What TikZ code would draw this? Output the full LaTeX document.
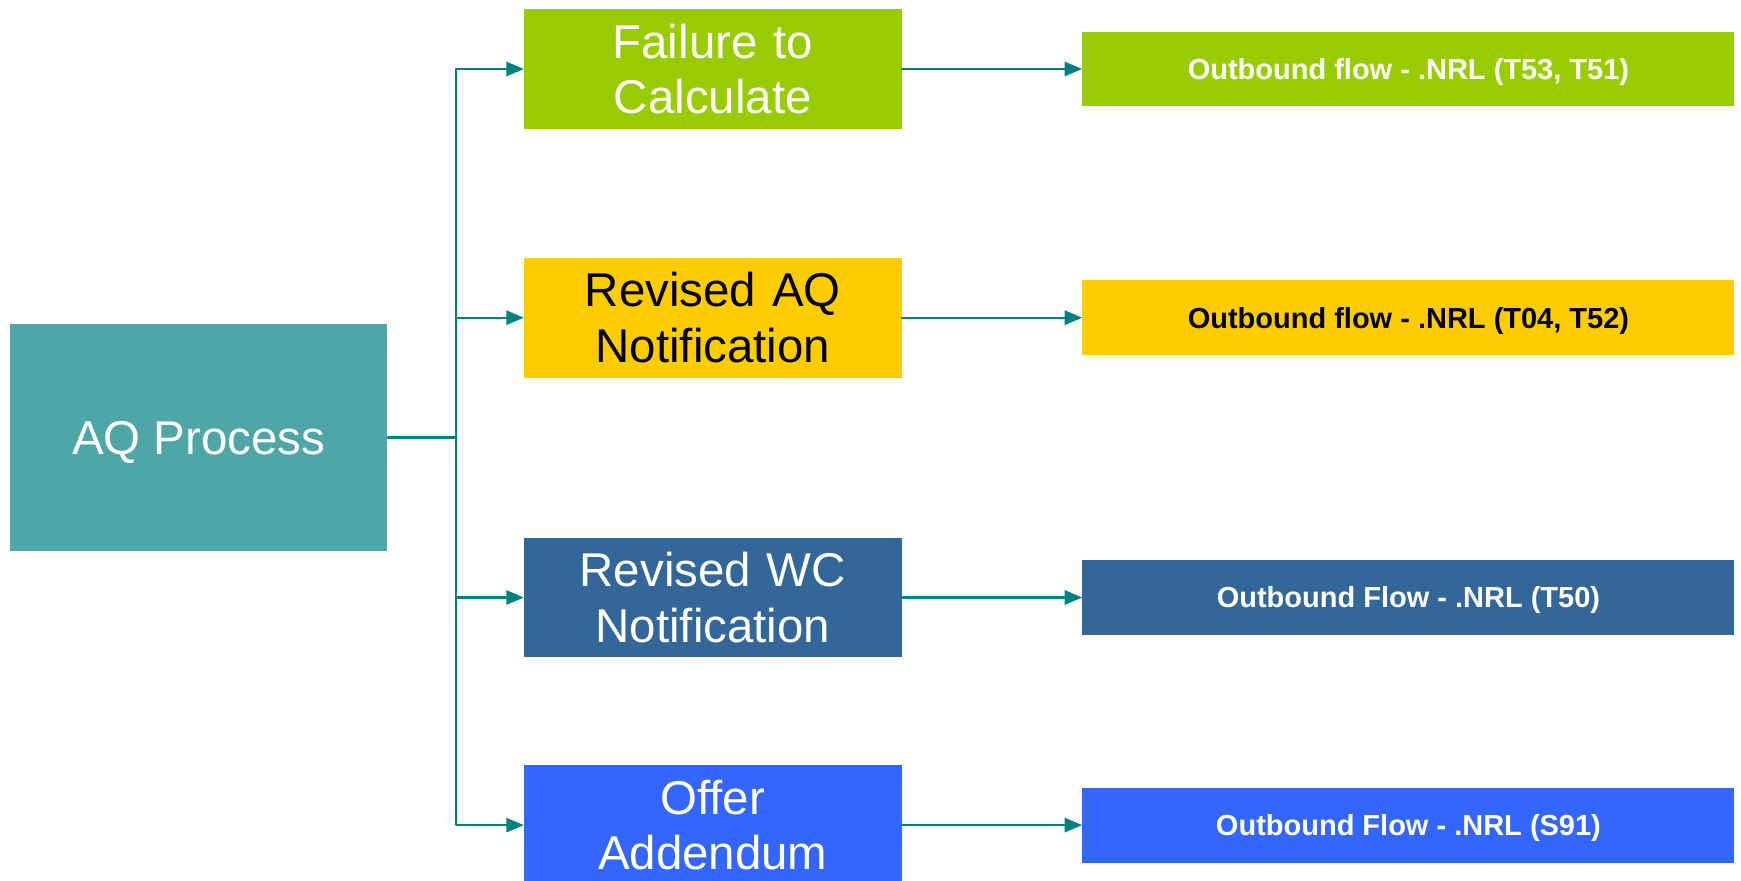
\documentclass[tikz,border=0pt]{standalone}
\usepackage{fontspec}
\setmainfont{Liberation Sans}
\usetikzlibrary{arrows}
\definecolor{procteal}{HTML}{4EA6A6}
\definecolor{linkteal}{HTML}{008080}
\definecolor{failgreen}{HTML}{99CC00}
\definecolor{revyellow}{HTML}{FFCC00}
\definecolor{wcblue}{HTML}{336699}
\definecolor{offerblue}{HTML}{3366FF}
\begin{document}
\begin{tikzpicture}[line cap=round,line join=round,>=triangle 45,x=0.02cm,y=0.02cm,
  stagebox/.style={inner sep=0pt,align=center,text width=7.55cm,minimum width=7.55cm,minimum height=2.4cm,font=\fontsize{27}{31.5}\selectfont},
  flowbox/.style={inner sep=0pt,minimum width=13.04cm,minimum height=1.5cm,text height=11.8pt,text depth=0pt,font=\fontsize{16.5}{20}\selectfont\bfseries},
  link/.style={->,color=linkteal,line width=1.3pt}]
\useasboundingbox (0,0) rectangle (1741,880);
\clip (0,0) rectangle (1741,880);
\node[fill=procteal,text=white,inner sep=0pt,minimum width=7.55cm,minimum height=4.54cm,text height=19.3pt,text depth=0pt,font=\fontsize{27}{31.5}\selectfont] (aq) at (198.75,442.5) {AQ Process};
\coordinate (trunk) at (456,442.5);
% stages
\node[stagebox,fill=failgreen,text=white] (fail) at (712.8,811) {Failure to\\Calculate};
\node[stagebox,fill=revyellow,text=black] (revaq) at (712.8,562.3) {Revised AQ\\Notification};
\node[stagebox,fill=wcblue,text=white] (revwc) at (712.8,282.5) {Revised WC\\Notification};
\node[stagebox,fill=offerblue,text=white] (offer) at (712.8,54.9) {Offer\\Addendum};
% outbound flows
\node[flowbox,fill=failgreen,text=white] (failout) at (1408.4,811) {Outbound flow - .NRL (T53, T51)};
\node[flowbox,fill=revyellow,text=black] (revaqout) at (1408.4,562.3) {Outbound flow - .NRL (T04, T52)};
\node[flowbox,fill=wcblue,text=white] (revwcout) at (1408.4,282.5) {Outbound Flow - .NRL (T50)};
\node[flowbox,fill=offerblue,text=white] (offerout) at (1408.4,54.9) {Outbound Flow - .NRL (S91)};
\draw[color=linkteal,line width=1.3pt] (aq.east) -- (trunk);
\draw[link] (trunk) |- (fail);
\draw[link] (trunk) |- (revaq);
\draw[link] (trunk) |- (revwc);
\draw[link] (trunk) |- (offer);
\draw[link] (fail) -- (failout);
\draw[link] (revaq) -- (revaqout);
\draw[link] (revwc) -- (revwcout);
\draw[link] (offer) -- (offerout);
\end{tikzpicture}
\end{document}
